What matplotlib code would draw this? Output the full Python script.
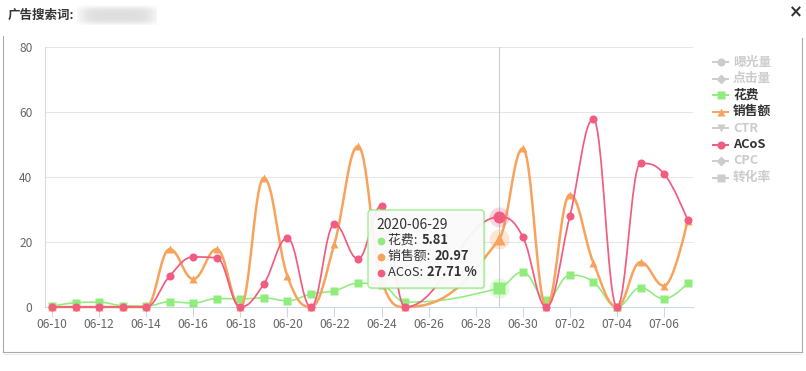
import numpy as np
import matplotlib
matplotlib.use('Agg')
import matplotlib.pyplot as plt
from matplotlib.path import Path
from matplotlib.patches import PathPatch, FancyBboxPatch
from matplotlib.lines import Line2D

plt.rcParams['font.family'] = ['Noto Sans CJK SC', 'DejaVu Sans']

# ---------------- data ----------------
dates = ['06-10', '06-11', '06-12', '06-13', '06-14', '06-15', '06-16', '06-17',
         '06-18', '06-19', '06-20', '06-21', '06-22', '06-23', '06-24', '06-25',
         '06-26', '06-27', '06-28', '06-29', '06-30', '07-01', '07-02', '07-03',
         '07-04', '07-05', '07-06', '07-07']
spend = [0.3, 1.3, 1.5, 0.4, 0.3, 1.6, 1.2, 2.6, 2.5, 2.8, 1.9, 4.0, 5.0, 7.3,
         6.8, 1.5, None, None, None, 5.81, 10.8, 2.2, 9.8, 7.7, 0.0, 5.9, 2.5, 7.3]
sales = [0, 0, 0, 0, 0, 17.8, 8.6, 17.8, 0, 39.7, 9.5, 0, 19.5, 49.5,
         8.0, 0, None, None, None, 20.97, 48.8, 0, 34.6, 13.6, 0, 13.8, 6.5, 26.6]
acos = [0, 0, 0, 0, 0, 9.6, 15.4, 15.1, 0, 7.1, 21.2, 0, 25.5, 14.8,
        31.2, 0, None, None, None, 27.71, 21.6, 0, 28.0, 57.8, 0, 44.2, 41.0, 26.8]
legend_names = ['曝光量', '点击量', '花费', '销售额', 'CTR', 'ACoS', 'CPC', '转化率']
legend_visible = [False, False, True, True, False, True, False, False]
tooltip_date = '2020-06-29'
hover_label = '06-29'
header_label = '广告搜索词:'

palette = ['#7cb5ec', '#434348', '#90ed7d', '#f7a35c', '#8085e9', '#f15c80', '#e4d354', '#2b908f']
symbols = ['o', 'D', 's', '^', 'v', 'o', 'D', 's']

W, H = 806, 371
fig = plt.figure(figsize=(W / 100, H / 100), dpi=100)
fig.patch.set_facecolor('white')

# main axes: plot area from px x 45..693, y 47..307
ax = fig.add_axes([45 / W, (H - 307) / H, 648 / W, 260 / H])
step = 23.54
ax.set_xlim(-7 / step, (693 - 52) / step)
ax.set_ylim(0, 80)
for s in ['top', 'right']:
    ax.spines[s].set_visible(False)
ax.spines['left'].set_color('#d9d9d9')
ax.spines['left'].set_linewidth(0.75)
ax.spines['bottom'].set_color('#ccd6eb')
ax.spines['bottom'].set_linewidth(0.75)
ax.set_yticks([0, 20, 40, 60, 80])
ax.yaxis.grid(True, color='#e6e6e6', lw=0.75)
ax.set_axisbelow(True)
ax.tick_params(axis='y', length=0, pad=9.0, labelsize=8.6, labelcolor='#666666')
xt = list(range(0, len(dates), 2))
ax.set_xticks(xt)
ax.set_xticklabels([dates[i] for i in xt])
ax.tick_params(axis='x', length=7.2, width=0.75, color='#ccd6eb', pad=0.8,
               labelsize=8.6, labelcolor='#666666')


def spline_path(xs, ys):
    pts = list(zip(xs, ys))
    n = len(pts)
    sm = 1.5
    den = sm + 1
    left = [None] * n
    right = [None] * n
    for i in range(1, n - 1):
        lx, ly = pts[i - 1]
        px, py = pts[i]
        nx, ny = pts[i + 1]
        lcx = (sm * px + lx) / den
        lcy = (sm * py + ly) / den
        rcx = (sm * px + nx) / den
        rcy = (sm * py + ny) / den
        corr = 0
        if rcx != lcx:
            corr = ((rcy - lcy) * (rcx - px)) / (rcx - lcx) + py - rcy
        lcy += corr
        rcy += corr
        if lcy > ly and lcy > py:
            lcy = max(ly, py)
            rcy = 2 * py - lcy
        elif lcy < ly and lcy < py:
            lcy = min(ly, py)
            rcy = 2 * py - lcy
        if rcy > ny and rcy > py:
            rcy = max(ny, py)
            lcy = 2 * py - rcy
        elif rcy < ny and rcy < py:
            rcy = min(ny, py)
            lcy = 2 * py - rcy
        left[i] = (lcx, lcy)
        right[i] = (rcx, rcy)
    verts = [pts[0]]
    codes = [Path.MOVETO]
    for i in range(1, n):
        c1 = right[i - 1] if right[i - 1] is not None else pts[i - 1]
        c2 = left[i] if left[i] is not None else pts[i]
        verts += [c1, c2, pts[i]]
        codes += [Path.CURVE4] * 3
    return Path(verts, codes)


hi = dates.index(hover_label)
# crosshair
ax.axvline(hi, color='#cccccc', lw=0.75, zorder=1)


def draw_series(vals, color, marker, lw, z):
    xs = [i for i, v in enumerate(vals) if v is not None]
    ys = [v for v in vals if v is not None]
    ax.add_patch(PathPatch(spline_path(xs, ys), fill=False, edgecolor=color, lw=lw,
                           zorder=z, clip_on=False, capstyle='round', joinstyle='round'))
    ax.plot(xs, ys, linestyle='none', marker=marker, ms=5.8, color=color,
            mec='none', zorder=z + 0.1, clip_on=False)
    # hover state
    ax.plot([hi], [vals[hi]], marker='o', ms=14.4, color=color, alpha=0.25,
            mec='none', zorder=z + 0.2, clip_on=False)
    ax.plot([hi], [vals[hi]], marker=marker, ms=8.6, color=color,
            mec='none', zorder=z + 0.3, clip_on=False)


draw_series(spend, palette[2], symbols[2], 1.15, 3)
draw_series(sales, palette[3], symbols[3], 1.8, 4)
draw_series(acos, palette[5], symbols[5], 1.25, 5)

# ---------------- overlay in pixel coords ----------------
ov = fig.add_axes([0, 0, 1, 1], zorder=10)
ov.set_xlim(0, W)
ov.set_ylim(H, 0)
ov.axis('off')
ov.patch.set_alpha(0)

# header
ov.text(8, 15, header_label, fontsize=9, fontweight='bold', color='#333333',
        va='center', ha='left')
yy, xx = np.mgrid[0:20, 0:80]
blob = np.exp(-(((xx - 40) / 38.0) ** 6)) * np.exp(-(((yy - 10) / 8.5) ** 4))
rgba = np.zeros((20, 80, 4))
rgba[..., :3] = 0.86
rgba[..., 3] = blob * 0.9
ov.imshow(rgba, extent=[77, 157, 25, 5], interpolation='bilinear', zorder=1, aspect='auto')
ov.set_xlim(0, W)
ov.set_ylim(H, 0)
ov.text(796, 12, '×', fontsize=12, fontweight='bold', color='#333333',
        ha='center', va='center', family='DejaVu Sans')

# panel border
ov.plot([3, 3], [36, 352], color='#ababab', lw=0.8)
ov.plot([802, 802], [38, 352], color='#ababab', lw=0.8)
ov.plot([3, 802], [352, 352], color='#ababab', lw=0.8)
ov.plot([4, 801], [354, 354], color='#ececec', lw=0.8)

# legend
for k, name in enumerate(legend_names):
    y = 62 + k * 16.5
    c = palette[k] if legend_visible[k] else '#cccccc'
    tc = '#333333' if legend_visible[k] else '#cccccc'
    ov.add_line(Line2D([713, 728], [y, y], color=c, lw=1.4))
    ms = 5.8 if symbols[k] != 'D' else 4.6
    ov.plot([720.5], [y], marker=symbols[k], ms=ms, color=c, mec='none')
    ov.text(733, y, name, fontsize=9.2, fontweight='bold', color=tc, va='center', ha='left')

# tooltip
ov.add_patch(FancyBboxPatch((369.5, 211.5), 116, 78, boxstyle='round,pad=0,rounding_size=3',
                            facecolor='black', alpha=0.08, edgecolor='none', zorder=20))
ov.add_patch(FancyBboxPatch((368, 210), 116, 78, boxstyle='round,pad=0,rounding_size=3',
                            facecolor='#fbfbfb', alpha=0.95, edgecolor=palette[2], lw=0.9, zorder=21))
ov.text(376, 225, tooltip_date, fontsize=10, color='#333333', va='center', ha='left', zorder=22)
renderer = fig.canvas.get_renderer()
rows = [('花费: ', '%.2f' % spend[hi], palette[2]),
        ('销售额: ', '%.2f' % sales[hi], palette[3]),
        ('ACoS: ', '%.2f %%' % acos[hi], palette[5])]
for r, (lab, val, c) in enumerate(rows):
    y = 240.5 + r * 16
    ov.plot([381], [y], marker='o', ms=5.6, color=c, mec='none', zorder=22)
    t = ov.text(388, y, lab, fontsize=9.3, color='#333333', va='center', ha='left', zorder=22)
    bb = t.get_window_extent(renderer)
    ov.text(388 + bb.width + 1, y, val, fontsize=9.3, fontweight='bold', color='#333333',
            va='center', ha='left', zorder=22)

fig.savefig('out.png', dpi=100, facecolor='white')
